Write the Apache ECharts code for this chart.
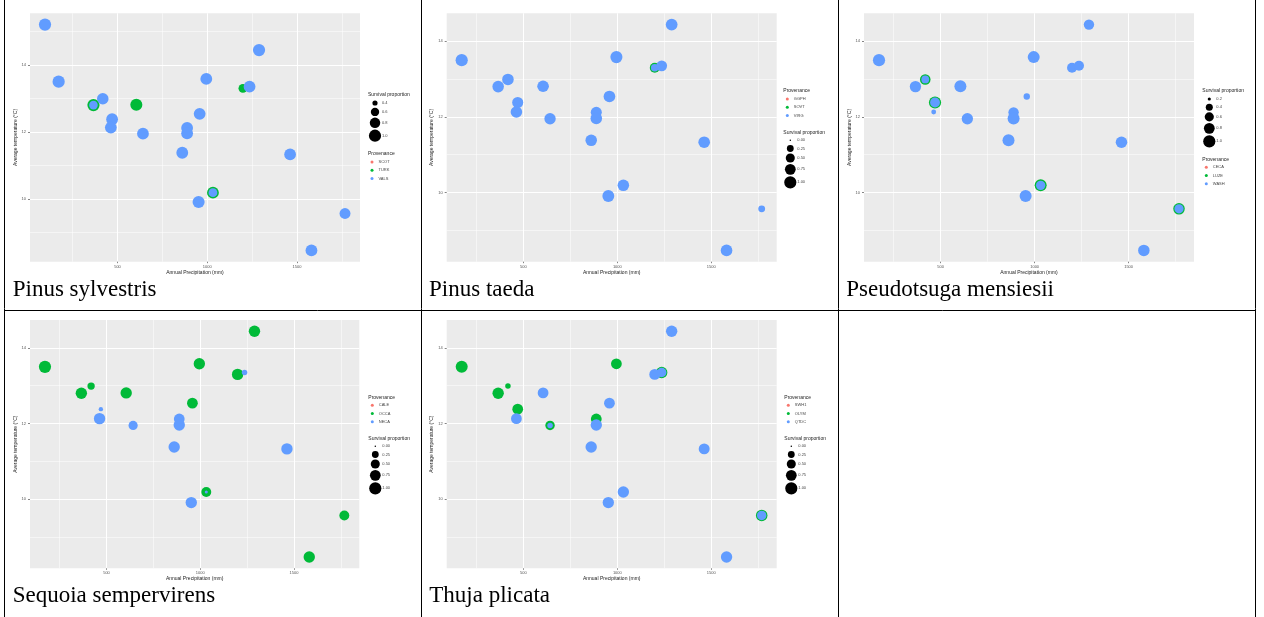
<!DOCTYPE html>
<html>
<head>
<meta charset="utf-8">
<title>Survival by provenance across garden sites</title>
<script src="https://cdn.jsdelivr.net/npm/echarts@6/dist/echarts.min.js"></script>
<style>
  html, body { margin: 0; padding: 0; background: #ffffff; }
  #c { width: 1264px; height: 617px; }
</style>
</head>
<body>
<div id="c"></div>
<script>
const n = null;

// Garden sites: annual precipitation (mm) and average temperature (°C)
const sitePrecip = [96, 172, 366, 418, 470, 463, 605, 642, 861, 888, 888, 958, 995, 952, 1032, 1199, 1236, 1289, 1462, 1581, 1768];
const siteTemp   = [15.2, 13.5, 12.8, 12.99, 12.38, 12.13, 12.81, 11.95, 11.38, 12.12, 11.96, 12.54, 13.58, 9.91, 10.19, 13.3, 13.35, 14.44, 11.33, 8.47, 9.57];

// Axis breaks
const xTicks = [500, 1000, 1500];
const xMinorTicks = [250, 750, 1250, 1750];
const yTicks = [10, 12, 14];
const yMinorTicks = [9, 11, 13, 15];

// Species captions
const speciesNames = ['Pinus sylvestris', 'Pinus taeda', 'Pseudotsuga mensiesii', 'Sequoia sempervirens', 'Thuja plicata'];

// Pinus sylvestris: survival proportion per site for each provenance
const sylvestrisProv = ['SCOT', 'TURK', 'VALS'];
const sylvestrisSCOT = [];
const sylvestrisTURK = [n, n, 1.0, n, n, n, 0.98, n, n, n, n, n, n, n, 0.95, 0.64, n, n, n, n, n];
const sylvestrisVALS = [1.0, 1.0, 0.62, 0.92, 0.95, 0.95, n, 0.95, 0.95, 0.95, 0.95, 0.95, 0.95, 0.98, 0.64, n, 0.95, 1.0, 0.95, 0.95, 0.85];
const sylvestrisDomain = [0.32, 1.0];
const sylvestrisBreaks = ['0.4', '0.6', '0.8', '1.0'];

// Pinus taeda
const taedaProv = ['GGPH', 'SOVT', 'VIRG'];
const taedaGGPH = [];
const taedaSOVT = [n, n, n, n, n, n, n, n, n, n, n, n, n, n, n, 0.62, n, n, n, n, n];
const taedaVIRG = [n, 1.0, 0.88, 0.88, 0.8, 0.88, 0.9, 0.85, 0.88, 0.8, 0.88, 0.9, 0.98, 0.95, 0.88, 0.32, 0.75, 0.92, 0.9, 0.9, 0.25];
const taedaDomain = [0, 1.0];
const taedaBreaks = ['0.00', '0.25', '0.50', '0.75', '1.00'];

// Pseudotsuga mensiesii
const pseudotsugaProv = ['CECA', 'LUZE', 'WASH'];
const pseudotsugaCECA = [];
const pseudotsugaLUZE = [n, n, n, 0.77, 1.0, n, n, n, n, n, n, n, n, n, 0.97, n, n, n, n, n, 0.9];
const pseudotsugaWASH = [n, 1.0, 0.87, 0.46, 0.68, 0.26, 0.97, 0.87, 0.97, 0.75, 0.97, 0.35, 0.97, 0.97, 0.62, 0.7, 0.7, 0.75, 0.9, 0.9, 0.6];
const pseudotsugaDomain = [0.18, 1.0];
const pseudotsugaBreaks = ['0.2', '0.4', '0.6', '0.8', '1.0'];

// Sequoia sempervirens
const sequoiaProv = ['CALE', 'OCCA', 'NECA'];
const sequoiaCALE = [];
const sequoiaOCCA = [n, 1.0, 0.85, 0.3, n, n, 0.85, n, n, n, n, 0.75, 0.85, n, 0.62, 0.85, n, 0.85, n, 0.85, 0.62];
const sequoiaNECA = [n, n, n, n, 0.07, 0.85, n, 0.52, 0.85, 0.75, 0.85, n, n, 0.85, 0.02, n, 0.14, n, 0.85, n, n];
const sequoiaDomain = [0, 1.0];
const sequoiaBreaks = ['0.00', '0.25', '0.50', '0.75', '1.00'];

// Thuja plicata
const thujaProv = ['SWH1', 'OLYM', 'QTDC'];
const thujaSWH1 = [];
const thujaOLYM = [n, 0.96, 0.85, 0.14, 0.75, n, n, 0.55, n, 0.75, n, n, 0.75, n, n, n, 0.85, n, n, n, 0.88];
const thujaQTDC = [n, n, n, n, n, 0.75, 0.75, 0.14, 0.85, n, 0.85, 0.75, n, 0.85, 0.85, 0.78, 0.55, 0.85, 0.78, 0.85, 0.55];
const thujaDomain = [0, 1.0];
const thujaBreaks = ['0.00', '0.25', '0.50', '0.75', '1.00'];

const COLORS = ['#F8766D', '#00BA38', '#619CFF'];
const SANS = '"Liberation Sans", Arial, sans-serif';
const SERIF = '"Liberation Serif", "Times New Roman", serif';
const D_MIN = 1.5, D_MAX = 12.2;

// Area-proportional size scale, as in ggplot's scale_size
function diameter(v, dom) {
  const t = Math.max(0, Math.min(1, (v - dom[0]) / (dom[1] - dom[0])));
  return D_MIN + (D_MAX - D_MIN) * Math.sqrt(t);
}

// 5% padding on each side of the data range
function expand(vals) {
  const lo = Math.min(...vals), hi = Math.max(...vals);
  const pad = (hi - lo) * 0.05;
  return [lo - pad, hi + pad];
}

// Panel layout
const panels = [
  { species: speciesNames[0], prov: sylvestrisProv, surv: [sylvestrisSCOT, sylvestrisTURK, sylvestrisVALS],
    domain: sylvestrisDomain, breaks: sylvestrisBreaks,
    grid: { left: 30, top: 13.3, width: 330, height: 248.4 }, caption: [12.7, 289.5],
    sizeTitle: [368, 95], provTitle: [368, 154] },
  { species: speciesNames[1], prov: taedaProv, surv: [taedaGGPH, taedaSOVT, taedaVIRG],
    domain: taedaDomain, breaks: taedaBreaks,
    grid: { left: 446.7, top: 13.3, width: 330, height: 248.4 }, caption: [429, 289.5],
    provTitle: [783.3, 91], sizeTitle: [783.3, 132.3] },
  { species: speciesNames[2], prov: pseudotsugaProv, surv: [pseudotsugaCECA, pseudotsugaLUZE, pseudotsugaWASH],
    domain: pseudotsugaDomain, breaks: pseudotsugaBreaks,
    grid: { left: 864, top: 13.3, width: 330, height: 248.4 }, caption: [846.3, 289.5],
    sizeTitle: [1202.3, 91], provTitle: [1202.3, 159.3] },
  { species: speciesNames[3], prov: sequoiaProv, surv: [sequoiaCALE, sequoiaOCCA, sequoiaNECA],
    domain: sequoiaDomain, breaks: sequoiaBreaks,
    grid: { left: 30, top: 320, width: 329.3, height: 248.3 }, caption: [12.7, 595.5],
    provTitle: [368.3, 397.3], sizeTitle: [368.3, 438.3] },
  { species: speciesNames[4], prov: thujaProv, surv: [thujaSWH1, thujaOLYM, thujaQTDC],
    domain: thujaDomain, breaks: thujaBreaks,
    grid: { left: 446.7, top: 320, width: 330, height: 248.3 }, caption: [429.3, 595.5],
    provTitle: [784.3, 397.3], sizeTitle: [784.3, 438.3] }
];

const grids = [], xAxes = [], yAxes = [], series = [], legends = [], graphics = [];

panels.forEach((p, i) => {
  const used = sitePrecip.map((_, k) => p.surv.some(a => a[k] != null));
  const xr = expand(sitePrecip.filter((_, k) => used[k]));
  const yr = expand(siteTemp.filter((_, k) => used[k]));

  grids.push(Object.assign({
    show: true, backgroundColor: '#EBEBEB', borderWidth: 0,
    containLabel: false, outerBoundsMode: 'none'
  }, p.grid));

  const tickStyle = { color: '#333333', width: 0.6 };
  xAxes.push({
    type: 'value', gridIndex: i, min: xr[0], max: xr[1], position: 'bottom',
    name: 'Annual Precipitation (mm)', nameLocation: 'middle', nameGap: 8,
    nameTextStyle: { fontSize: 5, color: '#222', fontFamily: SANS },
    axisLine: { show: false },
    axisTick: { show: true, length: 1.5, customValues: xTicks, lineStyle: tickStyle },
    axisLabel: { customValues: xTicks, formatter: v => String(v), fontSize: 4, color: '#555', margin: 3, fontFamily: SANS },
    splitLine: { show: true, lineStyle: { color: '#ffffff', width: 1 } }
  });
  xAxes.push({
    type: 'value', gridIndex: i, min: xr[0], max: xr[1], position: 'bottom',
    axisLine: { show: false },
    axisTick: { show: false, customValues: xMinorTicks },
    axisLabel: { show: false },
    splitLine: { show: true, lineStyle: { color: '#ffffff', width: 0.5 } }
  });
  yAxes.push({
    type: 'value', gridIndex: i, min: yr[0], max: yr[1], position: 'left',
    name: 'Average temperature (°C)', nameLocation: 'middle', nameGap: 11.5,
    nameTextStyle: { fontSize: 5, color: '#222', fontFamily: SANS },
    axisLine: { show: false },
    axisTick: { show: true, length: 2, customValues: yTicks, lineStyle: tickStyle },
    axisLabel: { customValues: yTicks, formatter: v => String(v), fontSize: 4, color: '#555', margin: 4, fontFamily: SANS },
    splitLine: { show: true, lineStyle: { color: '#ffffff', width: 1 } }
  });
  yAxes.push({
    type: 'value', gridIndex: i, min: yr[0], max: yr[1], position: 'left',
    axisLine: { show: false },
    axisTick: { show: false, customValues: yMinorTicks },
    axisLabel: { show: false },
    splitLine: { show: true, lineStyle: { color: '#ffffff', width: 0.5 } }
  });

  // One scatter layer per provenance; later layers sit on top
  p.surv.forEach((arr, j) => {
    series.push({
      type: 'scatter', name: p.prov[j],
      xAxisIndex: 2 * i, yAxisIndex: 2 * i,
      symbol: 'circle',
      symbolSize: v => diameter(v[2], p.domain),
      itemStyle: { color: COLORS[j], opacity: 1 },
      silent: true, emphasis: { disabled: true },
      data: arr.map((v, k) => v == null ? null : [sitePrecip[k], siteTemp[k], v]).filter(d => d)
    });
  });

  // Provenance legend
  graphics.push({
    type: 'text', silent: true,
    style: { text: 'Provenance', x: p.provTitle[0], y: p.provTitle[1], fill: '#222',
             font: '5px ' + SANS, align: 'left', verticalAlign: 'middle' }
  });
  legends.push({
    data: p.prov, orient: 'vertical', icon: 'circle',
    left: p.provTitle[0] + 2.5, top: p.provTitle[1] + 8 - 2.5,
    itemWidth: 3, itemHeight: 3, itemGap: 3.2, padding: 0, selectedMode: false,
    textStyle: { fontSize: 4, lineHeight: 5, color: '#444', fontFamily: SANS }
  });

  // Survival proportion legend: black keys through the same size scale
  graphics.push({
    type: 'text', silent: true,
    style: { text: 'Survival proportion', x: p.sizeTitle[0], y: p.sizeTitle[1], fill: '#222',
             font: '5px ' + SANS, align: 'left', verticalAlign: 'middle' }
  });
  let cy = p.sizeTitle[1] + 4;
  const cx = p.sizeTitle[0] + 7;
  p.breaks.forEach((b) => {
    const d = diameter(parseFloat(b), p.domain);
    const h = Math.max(8, d + 1.5);
    const c = cy + h / 2;
    graphics.push({ type: 'circle', silent: true, shape: { cx: cx, cy: c, r: d / 2 }, style: { fill: '#000' } });
    graphics.push({
      type: 'text', silent: true,
      style: { text: b, x: cx + 7, y: c, fill: '#444', font: '4px ' + SANS, align: 'left', verticalAlign: 'middle' }
    });
    cy += h;
  });

  // Caption under the plot
  graphics.push({
    type: 'text', silent: true,
    style: { text: p.species, x: p.caption[0], y: p.caption[1], fill: '#000',
             font: '23px ' + SERIF, align: 'left', verticalAlign: 'middle' }
  });
});

// Table rules
const ruleX = [4.5, 421.5, 838.5, 1255.5];
ruleX.forEach(x => graphics.push({
  type: 'line', silent: true, shape: { x1: x, y1: 0, x2: x, y2: 617 }, style: { stroke: '#000', lineWidth: 1 }
}));
graphics.push({
  type: 'line', silent: true, shape: { x1: 4.5, y1: 310.5, x2: 1255.5, y2: 310.5 }, style: { stroke: '#000', lineWidth: 1 }
});

const chart = echarts.init(document.getElementById('c'), null, { renderer: 'canvas' });
chart.setOption({
  animation: false,
  backgroundColor: '#ffffff',
  tooltip: { show: false },
  grid: grids,
  xAxis: xAxes,
  yAxis: yAxes,
  legend: legends,
  series: series,
  graphic: { elements: graphics }
});
</script>
</body>
</html>
